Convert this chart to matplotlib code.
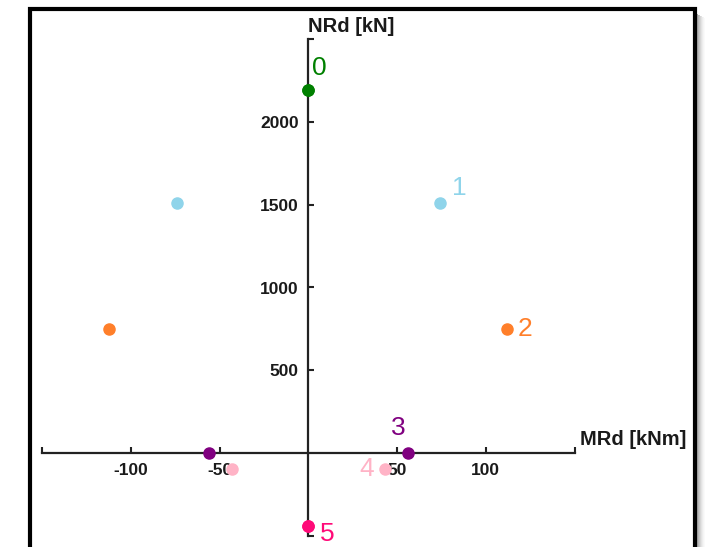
import matplotlib
matplotlib.use("Agg")
import matplotlib.pyplot as plt
from matplotlib.patches import Rectangle

plt.rcParams['font.family'] = ['Liberation Sans', 'DejaVu Sans']

# Data
labels = ['0', '1', '2', '3', '4', '5']
m_rd = [0, 74, 112, 56, 43, 0]          # kNm (plotted as +/-)
n_rd = [2190, 1510, 748, 0, -97, -440]  # kN
colors = ['#008000', '#8fd4ea', '#ff7f2a', '#800080', '#ffb3c6', '#ff0a78']
x_ticks = [-150, -100, -50, 50, 100, 150]
x_ticklabels = ['', '-100', '-50', '50', '100', '']
y_ticks = [-500, 500, 1000, 1500, 2000, 2500]
y_ticklabels = ['', '500', '1000', '1500', '2000', '']

W, H = 709, 547
fig = plt.figure(figsize=(W / 100, H / 100), dpi=100)

# Frame with shadow
for i, a in enumerate([0.35, 0.28, 0.22, 0.16, 0.11, 0.07, 0.04, 0.02]):
    fig.add_artist(Rectangle(((697 + i) / W, 0), 1.2 / W, (H - 14 - i * 0.5) / H,
                             transform=fig.transFigure, facecolor='black',
                             alpha=a, edgecolor='none'))
fig.add_artist(Rectangle((29.5 / W, -0.1), (695 - 29.5) / W, 0.1 + (H - 8.5) / H,
                         transform=fig.transFigure, facecolor='none',
                         edgecolor='black', linewidth=3.0))

# Axes: x from -150..150 -> px 42..574.5 ; y -500..2500 -> px 536..39 (from top)
left = 42 / W
width = (574.5 - 42) / W
bottom = (H - 536) / H
height = (536 - 39) / H
ax = fig.add_axes([left, bottom, width, height])
ax.set_xlim(-150, 150)
ax.set_ylim(-500, 2500)
ax.patch.set_alpha(0)

for s in ['top', 'right']:
    ax.spines[s].set_visible(False)
ax.spines['left'].set_position('zero')
ax.spines['bottom'].set_position('zero')
for s in ['left', 'bottom']:
    ax.spines[s].set_color('#222222')
    ax.spines[s].set_linewidth(1.6)

ax.set_xticks(x_ticks)
ax.set_xticklabels(x_ticklabels)
ax.set_yticks(y_ticks)
ax.set_yticklabels(y_ticklabels)
ax.tick_params(axis='x', direction='in', length=4, width=1.5, color='#222222',
               pad=7, labelsize=12.5)
ax.tick_params(axis='y', direction='in', length=4, width=1.5, color='#222222',
               pad=7, labelsize=12.5)
for t in ax.get_xticklabels() + ax.get_yticklabels():
    t.set_fontweight('bold')
    t.set_color('#1a1a1a')

# Points (symmetric)
for m, n, c in zip(m_rd, n_rd, colors):
    ax.plot([m, -m], [n, n], 'o', color=c, markersize=8, zorder=5, clip_on=False)

# Point labels
offsets = [(8, 16), (14, 11), (13, 0), (-7, 18), (-13, 0), (14, -6)]
for lab, m, n, c, off in zip(labels, m_rd, n_rd, colors, offsets):
    ax.annotate(lab, (m, n), xytext=off, textcoords='offset points',
                color=c, fontsize=19, ha='center', va='center',
                annotation_clip=False)

# Axis titles
ax.annotate('NRd [kN]', (0, 2500), xytext=(0, 2.5), textcoords='offset points',
            ha='left', va='bottom', fontsize=14.5, fontweight='bold',
            color='#1a1a1a', annotation_clip=False)
ax.annotate('MRd [kNm]', (150, 0), xytext=(4, 3), textcoords='offset points',
            ha='left', va='bottom', fontsize=14.5, fontweight='bold',
            color='#1a1a1a', annotation_clip=False)

fig.savefig('out.png', dpi=100)
